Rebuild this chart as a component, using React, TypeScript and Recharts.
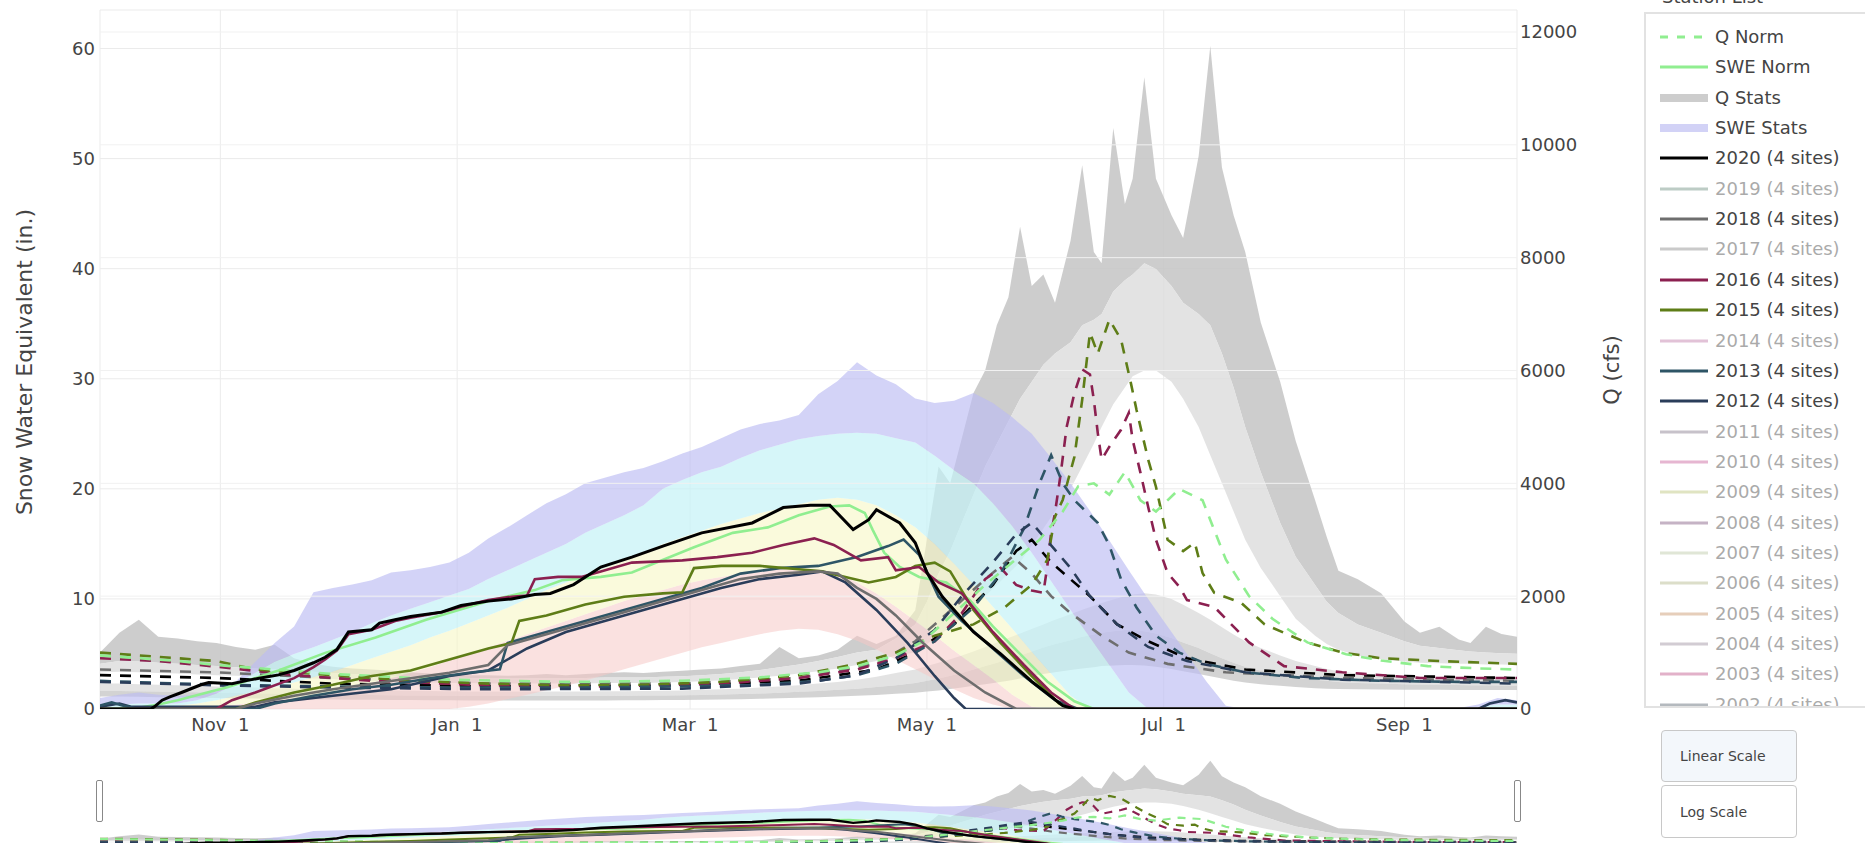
import React from 'react';
import { ComposedChart, Area, Line, XAxis, YAxis, CartesianGrid, ReferenceLine } from 'recharts';

const FONT = "'DejaVu Sans', Verdana, sans-serif";

// ---- axes ----
const X_TICKS = [31, 92, 152, 213, 274, 336];
const X_TICK_LABELS = ['Nov\u00a0\u00a01', 'Jan\u00a0\u00a01', 'Mar\u00a0\u00a01', 'May\u00a0\u00a01', 'Jul\u00a0\u00a01', 'Sep\u00a0\u00a01'];
const SWE_TICKS = [0, 10, 20, 30, 40, 50, 60];
const Q_TICKS = [0, 2000, 4000, 6000, 8000, 10000, 12000];
const Q_GRID = [2000, 4000, 6000, 8000, 10000, 12000];

// ---- SWE stats (day of water year, inches) ----
const SWE_STAT_DAYS = [0,5,10,15,20,25,30,35,40,45,50,55,60,65,70,75,80,85,90,95,100,105,110,115,120,125,130,135,140,145,150,155,160,165,170,175,180,185,190,195,200,205,210,215,220,225,230,235,240,245,250,255,260,265,270,275,280,285,290,295,300,305,310,315,320,325,330,335,340,345,350,355,360,365];
const SWE_MAX = [1.0,1.3,1.5,1.3,1.2,1.3,1.6,2.5,4.3,6.0,7.5,10.6,11.0,11.3,11.7,12.4,12.6,12.9,13.3,14.2,15.5,16.5,17.6,18.7,19.5,20.5,21.0,21.5,21.9,22.5,23.2,23.8,24.6,25.4,25.9,26.2,26.7,28.6,29.8,31.5,30.3,29.5,28.2,27.8,28.0,28.7,27.8,26.5,25.0,22.8,20.5,18.0,15.3,12.6,10.0,7.5,5.0,2.5,0.3,0,0,0,0,0,0,0,0,0,0,0,0.1,0.4,1.0,0.8];
const SWE_P90 = [0.3,0.4,0.5,0.5,0.5,0.8,1.4,2.3,3.3,4.3,5.0,5.6,6.3,7.0,7.8,8.5,9.1,9.7,10.3,10.9,11.8,12.6,13.4,14.2,15.0,16.0,16.8,17.6,18.5,20.0,20.8,21.5,22.0,22.8,23.5,24.0,24.5,24.8,25.0,25.1,25.0,24.6,24.2,23.0,21.7,20.5,18.7,16.6,14.2,11.6,9.0,6.5,4.0,1.5,0,0,0,0,0,0,0,0,0,0,0,0,0,0,0,0,0,0.2,0.4,0.4];
const SWE_P70 = [0,0,0.1,0.2,0.3,0.5,0.8,1.2,1.6,2.0,2.4,2.9,3.4,4.0,4.6,5.2,5.8,6.5,7.1,7.8,8.5,9.2,10.0,10.8,11.5,12.2,12.8,13.5,14.2,15.0,15.6,16.2,16.8,17.3,17.8,18.2,18.6,19.0,19.2,19.0,18.5,17.6,16.5,15.0,13.2,11.3,9.3,7.3,5.2,3.2,1.2,0,0,0,0,0,0,0,0,0,0,0,0,0,0,0,0,0,0,0,0,0,0,0];
const SWE_P30 = [0,0,0,0,0,0,0.2,0.4,0.6,0.8,1.0,1.3,1.6,2.0,2.4,2.8,3.3,3.8,4.4,5.0,5.6,6.2,6.8,7.4,8.0,8.6,9.2,9.8,10.3,10.8,11.3,11.7,12.0,12.3,12.5,12.7,12.8,12.7,12.3,11.5,10.5,9.3,8.0,6.7,5.3,4.0,2.7,1.3,0.2,0,0,0,0,0,0,0,0,0,0,0,0,0,0,0,0,0,0,0,0,0,0,0,0,0];
const SWE_P10 = [0,0,0,0,0,0,0,0,0,0,0,0,0,0,0,0,0,0,0,0.2,0.5,0.9,1.3,1.7,2.1,2.6,3.1,3.6,4.1,4.6,5.1,5.6,6.0,6.4,6.8,7.1,7.3,7.2,6.8,6.2,5.4,4.5,3.6,2.7,1.8,1.0,0.4,0,0,0,0,0,0,0,0,0,0,0,0,0,0,0,0,0,0,0,0,0,0,0,0,0,0,0];

// ---- Q stats (cfs) ----
const Q_STAT_DAYS = [0,5,10,15,20,25,30,35,40,45,50,55,60,65,70,75,80,85,90,95,100,105,110,115,120,125,130,135,140,145,150,155,160,165,170,175,180,185,190,195,200,205,210,213,216,219,222,225,228,231,234,237,240,243,246,250,253,256,258,261,264,266,269,272,276,279,283,286,289,292,295,299,304,308,313,316,319,324,330,336,340,345,350,353,357,361,365];
const Q_MAX = [1000,1350,1580,1280,1250,1200,1170,1100,1050,1140,900,800,750,720,700,680,650,630,620,600,600,590,600,620,600,620,640,650,640,660,680,700,720,760,800,1100,900,950,1050,1300,1150,1300,1750,3000,4300,4000,4800,5600,6000,6800,7300,8550,7500,7700,7200,8300,9640,8100,7900,10300,8950,9400,11200,9400,8750,8350,9800,11750,9600,8750,8100,6850,5800,4750,3700,3050,2450,2300,2050,1550,1350,1460,1230,1170,1460,1330,1280];
const Q_P90 = [800,850,850,820,800,780,760,740,720,700,680,660,640,620,600,590,580,570,560,550,540,540,540,540,540,550,560,560,560,570,580,600,620,650,690,740,790,850,920,1000,1050,1250,1500,1900,2400,2800,3300,3800,4300,4700,5100,5500,5800,6100,6300,6500,6800,6900,7000,7400,7600,7700,7900,7800,7500,7200,7000,6800,6300,5700,5000,4200,3300,2700,2200,1900,1700,1500,1350,1200,1120,1080,1040,1020,1000,990,980];
const Q_P70 = [650,660,650,640,630,610,600,590,580,570,560,540,530,510,500,490,480,470,460,460,450,450,450,450,450,450,460,460,460,470,480,490,510,530,560,590,630,670,720,780,850,950,1000,1150,1300,1450,1600,1800,2000,2200,2400,2600,2900,3200,3500,3900,4300,4700,5000,5400,5700,5900,6000,6000,5800,5500,5000,4500,4000,3500,3000,2500,2000,1600,1300,1150,1050,950,880,840,820,810,800,800,790,790,780];
const Q_P30 = [450,450,440,430,420,410,400,390,380,370,360,350,345,340,335,330,325,320,315,310,310,310,310,310,310,310,315,315,320,325,330,340,350,360,380,400,420,450,480,520,570,640,700,760,820,880,950,1020,1100,1180,1260,1340,1420,1500,1580,1680,1760,1830,1880,1940,2000,2030,2050,2030,1950,1850,1700,1580,1450,1320,1200,1080,950,850,760,710,670,630,600,580,570,560,555,550,550,545,540];
const Q_P10 = [320,320,315,310,300,295,290,285,280,275,270,265,260,255,250,245,240,238,235,232,230,230,230,230,230,230,232,235,238,240,245,250,258,265,275,290,305,320,340,360,390,420,460,500,540,590,640,700,760,820,880,950,1020,1090,1150,1220,1280,1320,1350,1380,1400,1400,1380,1340,1260,1180,1080,990,900,820,750,680,610,560,520,500,480,460,450,440,435,430,425,420,420,415,410];
const Q_MIN = [220,220,215,210,205,200,195,190,185,180,175,170,168,165,162,160,158,155,153,150,150,150,150,150,150,150,152,154,156,158,160,165,170,175,180,190,200,210,220,235,250,270,290,310,330,355,380,410,440,470,500,540,580,620,650,690,720,740,760,770,780,780,770,750,710,670,620,580,540,500,470,440,410,390,370,360,355,350,345,342,340,340,338,336,335,335,335];

// ---- SWE lines [day, inches] ----
const SWE_NORM: [number, number][] = [[0,0],[10,0.1],[15,0.4],[20,0.8],[33,2.0],[46,3.5],[58,5.1],[71,6.5],[84,8.1],[101,9.9],[112,10.8],[119,11.7],[129,12.0],[137,12.4],[153,14.7],[163,16.0],[172,16.5],[180,17.6],[188,18.4],[193,18.5],[197,17.8],[199,16.3],[202,14.2],[206,12.9],[211,12.0],[218,11.5],[224,9.9],[230,7.5],[237,5.0],[244,2.5],[251,0.7],[256,0],[365,0]];
const SWE_2020: [number, number][] = [[0,0],[13,0],[14,0.2],[16,0.8],[18,1.1],[21,1.5],[26,2.2],[28,2.4],[34,2.3],[38,2.6],[41,2.8],[46,3.1],[50,3.5],[55,4.2],[58,4.7],[61,5.4],[64,7.0],[70,7.2],[72,7.8],[76,8.1],[80,8.4],[88,8.8],[93,9.4],[100,9.8],[106,10.0],[112,10.4],[116,10.5],[122,11.3],[129,12.9],[137,13.8],[145,14.8],[155,16.0],[168,16.9],[176,18.3],[183,18.5],[188,18.5],[194,16.3],[198,17.2],[200,18.1],[206,16.9],[210,15.1],[213,12.4],[217,10.2],[225,7.0],[232,5.0],[240,2.5],[248,0.3],[251,0],[365,0]];
const SWE_2018: [number, number][] = [[0,0],[35,0],[40,0.5],[50,1.2],[60,1.8],[70,2.3],[80,2.8],[90,3.3],[100,4.0],[105,5.8],[115,6.8],[125,7.8],[135,8.8],[145,9.8],[155,10.8],[165,11.8],[175,12.3],[185,12.5],[190,12.3],[195,11.0],[200,10.0],[205,8.5],[212,6.0],[220,3.5],[228,1.5],[236,0],[365,0]];
const SWE_2016: [number, number][] = [[0,0],[30,0],[34,0.8],[40,1.5],[50,2.8],[55,3.8],[58,4.5],[61,5.3],[64,6.8],[70,7.2],[76,8.0],[80,8.3],[88,8.8],[93,9.3],[100,9.9],[106,10.2],[110,10.3],[112,11.8],[118,12.0],[124,12.0],[129,12.5],[137,13.3],[150,13.5],[159,13.8],[168,14.2],[176,14.9],[184,15.5],[189,14.9],[196,13.5],[203,13.8],[205,12.6],[211,12.9],[216,11.5],[222,10.5],[230,7.0],[238,4.0],[245,1.5],[251,0],[365,0]];
const SWE_2015: [number, number][] = [[0,0],[35,0],[40,0.6],[50,1.5],[60,2.2],[70,3.0],[80,3.5],[90,4.5],[100,5.5],[106,6.0],[108,8.0],[115,8.5],[125,9.5],[135,10.2],[145,10.5],[150,10.6],[153,12.8],[160,13.0],[170,13.0],[180,12.7],[186,12.5],[192,12.0],[198,11.5],[205,12.0],[210,13.0],[215,13.3],[219,12.5],[225,9.0],[232,6.0],[240,3.0],[247,0.5],[250,0],[365,0]];
const SWE_2013: [number, number][] = [[0,0.3],[3,0.6],[6,0.3],[10,0],[40,0],[45,0.5],[55,1.2],[65,1.8],[75,2.2],[85,2.8],[95,3.3],[103,3.6],[105,6.0],[115,7.0],[125,8.0],[135,9.0],[145,10.0],[155,11.0],[165,12.3],[175,12.8],[185,13.0],[195,13.8],[203,14.8],[207,15.4],[211,14.0],[216,10.2],[222,8.0],[230,5.5],[238,3.0],[246,0.8],[252,0],[365,0]];
const SWE_2012: [number, number][] = [[0,0.2],[5,0.5],[8,0.2],[40,0.2],[45,0.6],[60,1.2],[75,1.8],[90,3.0],[100,3.5],[110,5.5],[120,7.0],[130,8.0],[140,9.0],[150,10.0],[160,11.0],[170,11.8],[180,12.2],[186,12.5],[192,11.5],[200,9.0],[208,6.0],[215,3.0],[220,1.0],[223,0],[355,0],[358,0.5],[362,0.8],[365,0.6]];

// ---- Q lines [day, cfs] ----
const Q_NORM: [number, number][] = [[0,950],[10,900],[20,850],[30,780],[45,700],[60,620],[90,520],[120,480],[150,500],[170,560],[185,650],[195,760],[205,950],[212,1200],[220,1700],[228,2200],[235,2600],[242,3000],[248,3500],[252,3950],[256,4000],[260,3800],[264,4200],[268,3700],[272,3500],[278,3900],[284,3700],[290,2650],[296,2000],[302,1600],[311,1180],[321,970],[330,860],[342,760],[355,720],[365,700]];
const Q_2020: [number, number][] = [[0,600],[30,550],[60,450],[100,400],[150,420],[180,500],[200,700],[210,1000],[220,1500],[230,2200],[236,2800],[240,3000],[245,2600],[250,2300],[255,2000],[262,1500],[270,1200],[280,900],[295,700],[320,600],[365,550]];
const Q_2018: [number, number][] = [[0,700],[30,650],[60,550],[100,450],[150,450],[180,550],[200,800],[210,1200],[220,1800],[228,2300],[235,2700],[240,2400],[245,2000],[250,1700],[258,1300],[265,1000],[275,800],[290,650],[320,550],[365,500]];
const Q_2016: [number, number][] = [[0,900],[15,850],[30,750],[50,600],[70,500],[100,420],[130,400],[160,450],[180,550],[195,700],[205,900],[215,1200],[222,1700],[228,2300],[232,2500],[236,2200],[240,2100],[243,2060],[244,2520],[245,3120],[246,3480],[247.5,4190],[249,5000],[251,5600],[253,6020],[255,5930],[256,5480],[257,4900],[258,4420],[260,4650],[263,4950],[265,5250],[266,4770],[268,4190],[270,3580],[272,3000],[275,2410],[278,2170],[280,1930],[287,1810],[296,1180],[305,760],[320,650],[340,550],[365,550]];
const Q_2015: [number, number][] = [[0,1000],[10,950],[20,900],[30,850],[40,700],[50,650],[60,600],[80,500],[100,450],[120,420],[140,430],[160,480],[180,600],[195,800],[205,1000],[215,1300],[225,1500],[233,1800],[240,2200],[244,2640],[246,3410],[248,3710],[251,4470],[253,5480],[255,6670],[257,6300],[260,6900],[263,6550],[265.5,5790],[267,5300],[270,4420],[272,3940],[275,3000],[279,2800],[282,2950],[284,2410],[287,2060],[294,1880],[300,1500],[310,1200],[320,1000],[330,900],[345,850],[365,800]];
const Q_2013: [number, number][] = [[0,500],[20,450],[40,420],[60,400],[90,380],[120,380],[150,400],[170,430],[185,500],[195,600],[205,800],[215,1200],[225,1800],[232,2400],[238,3200],[242,4000],[245,4500],[248,4000],[251,3700],[254,3500],[257,3300],[260,2900],[263,2300],[267,1800],[272,1300],[278,1000],[285,800],[295,650],[310,550],[330,500],[350,480],[365,480]];
const Q_2012: [number, number][] = [[0,480],[30,420],[60,380],[100,350],[150,360],[180,450],[195,600],[205,900],[215,1400],[222,2000],[230,2600],[236,3100],[240,3300],[245,2900],[250,2500],[255,2000],[262,1500],[270,1100],[280,850],[295,650],[320,520],[365,450]];

// ---- legend ----
const YEARS = [2020, 2019, 2018, 2017, 2016, 2015, 2014, 2013, 2012, 2011, 2010, 2009, 2008, 2007, 2006, 2005, 2004, 2003, 2002];
const YEAR_COLORS = ['#000000', '#6f8f80', '#6e6e6e', '#8c8c8c', '#8b2050', '#5e7d17', '#c07aa8', '#2e5566', '#2a3d5a', '#857a8c', '#c8609a', '#bcc47a', '#80587f', '#bccaa6', '#b2b88a', '#c89468', '#9c8f9e', '#c0558a', '#5a6570'];
const YEAR_ACTIVE = [true, false, true, false, true, true, false, true, true, false, false, false, false, false, false, false, false, false, false];

const NORM_COLOR = '#90ee90';
const colorOf = (y: number) => YEAR_COLORS[YEARS.indexOf(y)];

const toData = (pts: [number, number][]) => pts.map(([d, v]) => ({ d, v }));

const qStatData = Q_STAT_DAYS.map((d, i) => ({
  d,
  top: [Q_P90[i], Q_MAX[i]],
  upper: [Q_P70[i], Q_P90[i]],
  lower: [Q_P10[i], Q_P30[i]],
  bottom: [Q_MIN[i], Q_P10[i]],
}));
const sweStatData = SWE_STAT_DAYS.map((d, i) => ({
  d,
  lav: [SWE_P90[i], SWE_MAX[i]],
  cyan: [SWE_P70[i], SWE_P90[i]],
  yel: [SWE_P30[i], SWE_P70[i]],
  pink: [SWE_P10[i], SWE_P30[i]],
}));

const SWE_YEAR_LINES: [number, [number, number][]][] = [[2020, SWE_2020], [2018, SWE_2018], [2016, SWE_2016], [2015, SWE_2015], [2013, SWE_2013], [2012, SWE_2012]];
const Q_YEAR_LINES: [number, [number, number][]][] = [[2020, Q_2020], [2018, Q_2018], [2016, Q_2016], [2015, Q_2015], [2013, Q_2013], [2012, Q_2012]];

function renderSeries(slider: boolean) {
  const p = slider ? 's' : 'm';
  const lw = slider ? 2 : 2.6;
  const qw = slider ? 2.2 : 2.6;
  const dash = slider ? '8 7' : '11 9';
  const out: React.ReactNode[] = [];
  const band = (key: string, fill: string, op: number, yId: string, data: any[]) => (
    <Area key={p + key} data={data} dataKey={key} yAxisId={yId} type="linear" stroke="none" fill={fill} fillOpacity={op}
      isAnimationActive={false} dot={false} activeDot={false} />
  );
  out.push(band('top', '#c4c4c4', 0.85, 'right', qStatData));
  out.push(band('upper', '#dcdcdc', 0.8, 'right', qStatData));
  out.push(band('lower', '#dcdcdc', 0.8, 'right', qStatData));
  out.push(band('bottom', '#c8c8c8', 0.8, 'right', qStatData));
  out.push(band('pink', '#f6c9c6', 0.55, 'left', sweStatData));
  out.push(band('yel', '#f7f7c4', 0.6, 'left', sweStatData));
  out.push(band('cyan', '#c4f2f6', 0.7, 'left', sweStatData));
  out.push(band('lav', '#bcbcf2', 0.65, 'left', sweStatData));

  Q_YEAR_LINES.slice().forEach(([y, pts]) => {
    out.push(
      <Line key={p + 'q' + y} data={toData(pts)} dataKey="v" yAxisId="right" type="linear" stroke={colorOf(y)}
        strokeWidth={qw} strokeDasharray={dash} dot={false} activeDot={false} isAnimationActive={false} />
    );
  });
  out.push(
    <Line key={p + 'qnorm'} data={toData(Q_NORM)} dataKey="v" yAxisId="right" type="linear" stroke={NORM_COLOR}
      strokeWidth={qw} strokeDasharray={dash} dot={false} activeDot={false} isAnimationActive={false} />
  );
  out.push(
    <Line key={p + 'swenorm'} data={toData(SWE_NORM)} dataKey="v" yAxisId="left" type="linear" stroke={NORM_COLOR}
      strokeWidth={lw} dot={false} activeDot={false} isAnimationActive={false} />
  );
  SWE_YEAR_LINES.slice().reverse().forEach(([y, pts]) => {
    out.push(
      <Line key={p + 's' + y} data={toData(pts)} dataKey="v" yAxisId="left" type="linear" stroke={colorOf(y)}
        strokeWidth={y === 2020 ? lw + 0.4 : lw} dot={false} activeDot={false} isAnimationActive={false} />
    );
  });
  return out;
}

function LegendSymbol({ kind, color }: { kind: string; color: string }) {
  return (
    <svg width={50} height={24} style={{ position: 'absolute', left: 0, top: 0 }}>
      {kind === 'dash' && <line x1={1} y1={12} x2={49} y2={12} stroke={color} strokeWidth={3} strokeDasharray="8 9" />}
      {kind === 'line' && <line x1={1} y1={12} x2={49} y2={12} stroke={color} strokeWidth={3} />}
      {kind === 'band' && <rect x={1} y={8} width={48} height={8} fill={color} />}
    </svg>
  );
}

function Legend() {
  const rows: { name: string; kind: string; color: string; active: boolean }[] = [
    { name: 'Q Norm', kind: 'dash', color: NORM_COLOR, active: true },
    { name: 'SWE Norm', kind: 'line', color: NORM_COLOR, active: true },
    { name: 'Q Stats', kind: 'band', color: '#cdcdcd', active: true },
    { name: 'SWE Stats', kind: 'band', color: '#d2d2f6', active: true },
    ...YEARS.map((y, i) => ({ name: `${y} (4 sites)`, kind: 'line', color: YEAR_COLORS[i], active: YEAR_ACTIVE[i] })),
  ];
  return (
    <div style={{ position: 'absolute', left: 1644, top: 12, width: 280, height: 696, boxSizing: 'border-box', border: '2px solid #e2e2e2', background: '#fff', overflow: 'hidden' }}>
      {rows.map((r, i) => (
        <div key={r.name} style={{ position: 'absolute', left: 13, top: 23 + i * 30.35 - 12, height: 24, width: 240, opacity: r.active ? 1 : 0.45 }}>
          <LegendSymbol kind={r.kind} color={r.color} />
          <span style={{ position: 'absolute', left: 56, top: 0, lineHeight: '24px', fontSize: 18, color: '#444', whiteSpace: 'nowrap' }}>{r.name}</span>
        </div>
      ))}
    </div>
  );
}

const btn: React.CSSProperties = {
  position: 'absolute', left: 1661, width: 136, boxSizing: 'border-box', border: '1px solid #c8c8c8', borderRadius: 4,
  fontSize: 14, color: '#444', paddingLeft: 18, display: 'flex', alignItems: 'center',
};

export default function App() {
  const tickStyle = { fill: '#444', fontSize: 18, fontFamily: FONT };
  return (
    <div style={{ position: 'relative', width: 1865, height: 843, overflow: 'hidden', background: '#fff', fontFamily: FONT }}>
      <style>{'body{margin:0;}'}</style>
      <div style={{ position: 'absolute', left: 0, top: 0 }}>
        <ComposedChart width={1600} height={760} margin={{ top: 10, right: 23, left: 40, bottom: 11 }}>
          <CartesianGrid yAxisId="left" stroke="#ebebeb" strokeWidth={1} />
          {Q_GRID.map((v) => (
            <ReferenceLine key={'rg' + v} yAxisId="right" y={v} stroke="#f1f1f1" strokeWidth={1} />
          ))}
          <XAxis dataKey="d" type="number" domain={[0, 365]} ticks={X_TICKS} interval={0} allowDataOverflow
            tickFormatter={(v: number) => X_TICK_LABELS[X_TICKS.indexOf(v)] ?? ''} tick={tickStyle}
            axisLine={false} tickLine={false} tickSize={6} tickMargin={3} height={40} />
          <YAxis yAxisId="left" orientation="left" domain={[0, 63.5]} ticks={SWE_TICKS} interval={0} allowDataOverflow
            tick={tickStyle} axisLine={false} tickLine={false} tickSize={3} tickMargin={2} width={60} />
          <YAxis yAxisId="right" orientation="right" domain={[0, 12390]} ticks={Q_TICKS} interval={0} allowDataOverflow
            tick={tickStyle} axisLine={false} tickLine={false} tickSize={1} tickMargin={2} width={60} />
          {renderSeries(false)}
        </ComposedChart>
      </div>

      <div style={{ position: 'absolute', left: 24, top: 362, transform: 'translate(-50%, -50%) rotate(-90deg)', whiteSpace: 'nowrap', fontSize: 22, color: '#444' }}>
        Snow Water Equivalent (in.)
      </div>
      <div style={{ position: 'absolute', left: 1612, top: 370, transform: 'translate(-50%, -50%) rotate(-90deg)', whiteSpace: 'nowrap', fontSize: 21, color: '#444' }}>
        Q (cfs)
      </div>

      {/* range slider */}
      <div style={{ position: 'absolute', left: 0, top: 756 }}>
        <ComposedChart width={1600} height={90} margin={{ top: 0, right: 83, left: 100, bottom: 0 }}>
          <XAxis dataKey="d" type="number" domain={[0, 365]} hide allowDataOverflow />
          <YAxis yAxisId="left" domain={[0, 63.5]} hide allowDataOverflow />
          <YAxis yAxisId="right" orientation="right" domain={[0, 12390]} hide allowDataOverflow />
          {renderSeries(true)}
        </ComposedChart>
      </div>
      <div style={{ position: 'absolute', left: 96, top: 780, width: 7, height: 42, boxSizing: 'border-box', border: '1px solid #888', borderRadius: 2, background: '#fff' }} />
      <div style={{ position: 'absolute', left: 1514, top: 780, width: 7, height: 42, boxSizing: 'border-box', border: '1px solid #888', borderRadius: 2, background: '#fff' }} />

      <div style={{ position: 'absolute', left: 1662, top: -12, fontSize: 18, lineHeight: '18px', color: '#444', whiteSpace: 'nowrap' }}>Station List</div>
      <Legend />

      <div style={{ ...btn, top: 730, height: 52, background: '#f3f7fb' }}>Linear Scale</div>
      <div style={{ ...btn, top: 785, height: 53, background: '#fff' }}>Log Scale</div>
    </div>
  );
}
